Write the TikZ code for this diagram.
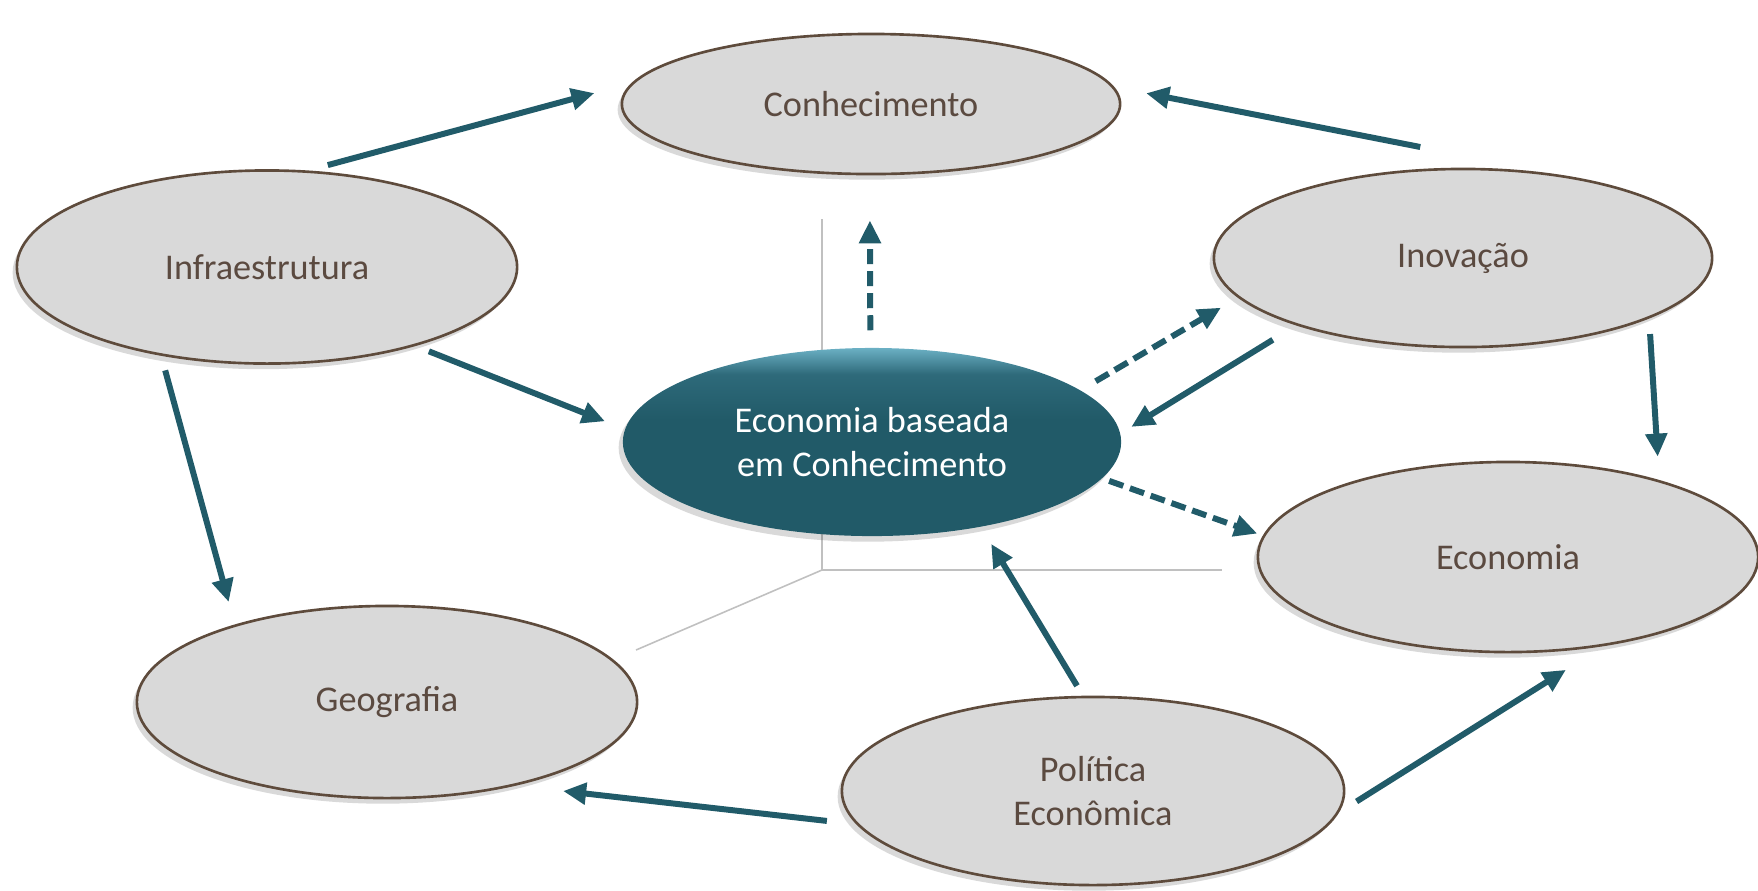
\documentclass[tikz,border=0pt]{standalone}
\usepackage{fontspec}
\setmainfont{Carlito}
\usetikzlibrary{shapes.geometric,arrows.meta,shadows}
\usepackage{xcolor}

\definecolor{bubblefill}{HTML}{D9D9D9}
\definecolor{bubbleline}{HTML}{5E4B3C}
\definecolor{bubbletext}{HTML}{5B4A40}
\definecolor{flowteal}{HTML}{215B69}
\definecolor{coretop}{HTML}{6BB0C4}
\definecolor{coremid}{HTML}{2E6A7A}
\definecolor{corebot}{HTML}{215A68}
\definecolor{axisgray}{HTML}{C0C0C0}

\pgfdeclareverticalshading{coreshade}{100bp}{color(0bp)=(corebot); color(25bp)=(corebot); color(56bp)=(corebot); color(68bp)=(coremid); color(75bp)=(coretop); color(100bp)=(coretop)}

\begin{document}
\begin{tikzpicture}[x=0.01cm, y=-0.01cm,
  bubble/.style={ellipse, draw=bubbleline, line width=0.75pt, fill=bubblefill,
    text=bubbletext, inner sep=0pt, align=center,
    font=\fontsize{10.3}{12.3}\selectfont,
    drop shadow={shadow xshift=-1.2pt, shadow yshift=-1.6pt, opacity=0.15, fill=black}},
  core/.style={ellipse, shading=coreshade, text=white, inner sep=0pt, align=center,
    font=\fontsize{10.3}{12.5}\selectfont,
    drop shadow={shadow xshift=-1.2pt, shadow yshift=-1.6pt, opacity=0.15, fill=black}},
  flow/.style={draw=flowteal, line width=1.7pt, -{Triangle[length=0.23cm, width=0.21cm]}},
  dflow/.style={flow, dash pattern=on 0.15cm off 0.07cm},
  axisline/.style={draw=axisgray, line width=0.45pt}]
  \useasboundingbox (0,0) rectangle (1758,890);

  % background axes
  \coordinate (axis) at (822,570);
  \draw[axisline] (axis) -- ++(0,-351);
  \draw[axisline] (axis) -- ++(400,0);
  \draw[axisline] (axis) -- ++(-186,80);

  % outer topics
  \node[bubble, minimum width=4.98cm, minimum height=1.40cm] (con)   at (871,104) {Conhecimento};
  \node[bubble, minimum width=5.00cm, minimum height=1.93cm] (infra) at (267,267) {Infraestrutura};
  \node[bubble, minimum width=4.98cm, minimum height=1.78cm] (inov)  at (1463,258) {Inovação};
  \node[bubble, minimum width=5.00cm, minimum height=1.90cm] (econ)  at (1508,557) {Economia};
  \node[bubble, minimum width=5.00cm, minimum height=1.92cm] (geo)   at (387,702) {Geografia};
  \node[bubble, minimum width=5.02cm, minimum height=1.88cm] (pol)   at (1093,791) {Política\\Econômica};

  % core
  \node[core, minimum width=4.98cm, minimum height=1.88cm] (ekb) at (872,442) {Economia baseada\\em Conhecimento};

  % solid influences
  \path
  (infra.67.2)  edge [flow, shorten <=0.205cm, shorten >=0.385cm] (con.175.5)
  (inov.38.1)   edge [flow, shorten <=1.505cm, shorten >=0.325cm] (con.4.9)
  (infra.332.8) edge [flow, shorten <=0.144cm, shorten >=0.21cm]  (ekb.177.7)
  (infra.220.7) edge [flow, shorten <=0.151cm, shorten >=0.233cm] (geo.153.1)
  (inov.342.6)  edge [flow, shorten <=0.156cm, shorten >=0.234cm] (econ.27.4)
  (inov.202.5)  edge [flow, shorten <=0.274cm, shorten >=0.123cm] (ekb.2.5)
  (pol.96.8)    edge [flow, shorten <=0.116cm, shorten >=0.194cm] (ekb.322.6)
  (pol.188.4)   edge [flow, shorten <=0.297cm, shorten >=0.476cm] (geo.327.4)
  (pol.355.8)   edge [flow, shorten <=0.208cm, shorten >=0.445cm] (econ.317.9);

  % dashed influences
  \path
  (ekb.91)   edge [dflow, shorten <=0.17cm, shorten >=0.45cm]   (con.269)
  (ekb.14.6) edge [dflow, shorten <=0.173cm, shorten >=0.197cm] (inov.190)
  (ekb.351)  edge [dflow, shorten <=0.07cm, shorten >=0.059cm]  (econ.175.8);
\end{tikzpicture}
\end{document}
